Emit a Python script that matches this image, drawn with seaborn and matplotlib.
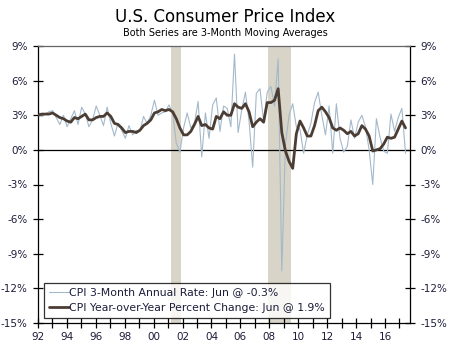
import numpy as np
import pandas as pd
import matplotlib
matplotlib.use("Agg")
import matplotlib.pyplot as plt
import seaborn as sns

# Quarterly readings, 1992Q1 .. 2017Q2
yoy = [3.0, 3.1, 3.1, 3.1,  3.2, 3.0, 2.8, 2.7,  2.5, 2.4, 2.8, 2.7,
       2.9, 3.1, 2.6, 2.6,  2.8, 2.9, 2.9, 3.2,  2.9, 2.3, 2.2, 1.9,
       1.5, 1.6, 1.6, 1.5,  1.7, 2.1, 2.3, 2.6,  3.2, 3.3, 3.5, 3.4,
       3.5, 3.3, 2.7, 1.9,  1.3, 1.3, 1.6, 2.2,  2.9, 2.1, 2.2, 1.9,
       1.8, 2.9, 2.7, 3.3,  3.0, 3.0, 4.0, 3.7,  3.6, 4.0, 3.3, 2.0,
       2.4, 2.7, 2.4, 4.1,  4.1, 4.3, 5.3, 1.5, -0.1, -1.0, -1.6, 1.4,
       2.5, 1.9, 1.2, 1.2,  2.1, 3.4, 3.7, 3.3,  2.8, 1.9, 1.7, 1.9,
       1.7, 1.4, 1.6, 1.2,  1.4, 2.1, 1.8, 1.2, -0.1, 0.0, 0.1, 0.5,
       1.1, 1.0, 1.1, 1.8,  2.5, 1.9]
rate3m = [3.3, 2.9, 3.1, 3.3,  3.4, 2.8, 2.2, 3.0,  2.0, 2.7, 3.4, 2.2,
          3.7, 3.1, 2.0, 2.6,  3.8, 3.0, 2.1, 3.7,  2.3, 1.2, 2.3, 1.7,
          1.0, 2.1, 1.3, 1.7,  1.6, 2.9, 2.3, 3.0,  4.3, 3.0, 3.2, 3.3,
          3.9, 3.2, 0.6, -0.2, 1.9, 3.2, 1.9, 2.3,  4.2, -0.6, 3.2, 1.0,
          3.9, 4.5, 1.6, 3.8,  3.6, 2.0, 8.3, 1.5,  3.5, 5.0, 2.5, -1.5,
          4.9, 5.3, 2.5, 5.0,  5.5, 3.8, 7.9, -10.5, 0.5, 3.0, 4.0, 2.0,
          1.8, -0.3, 1.3, 2.3,  4.1, 5.0, 3.0, 1.3,  3.8, -0.3, 4.0, 1.0,
          -0.2, 0.3, 2.6, 1.0,  2.4, 3.0, 2.0, 0.0, -3.0, 2.7, 1.1, -0.1,
          -0.3, 3.1, 1.6, 2.8,  3.6, -0.3]
yticks = [-15, -12, -9, -6, -3, 0, 3, 6, 9]
xlabel_years = list(range(1992, 2017, 2))
recessions = [(2001.2, 2001.9), (2007.93, 2009.48)]

t = 1992 + np.linspace(0, 25.42, len(yoy))
df = pd.DataFrame({"t": t, "yoy": yoy, "rate": rate3m})

sns.set_style("white")
plt.rcParams['font.family'] = ['DejaVu Sans']

fig = plt.figure(figsize=(4.5, 3.44), dpi=100)
ax = fig.add_axes([38/450, 21/344, 372/450, 277/344])

for a, b in recessions:
    ax.axvspan(a, b, color="#d9d4c8", lw=0, zorder=0)
ax.axhline(0, color="black", lw=0.9, zorder=1)

sns.lineplot(data=df, x="t", y="rate", ax=ax, color="#a3b9cb", lw=0.8,
             label="CPI 3-Month Annual Rate: Jun @ -0.3%", zorder=2)
sns.lineplot(data=df, x="t", y="yoy", ax=ax, color="#4b3d33", lw=2.0,
             label="CPI Year-over-Year Percent Change: Jun @ 1.9%", zorder=3)

ax.set_xlim(1992, 2017.73)
ax.set_ylim(-15, 9)
ax.set_yticks(yticks)
ax.set_yticklabels([f"{v}%" for v in yticks])
ax.set_xticks(range(1992, 2018))
ax.set_xticklabels([f"{y % 100:02d}" if y in xlabel_years else "" for y in range(1992, 2018)])
ax.set_xlabel("")
ax.set_ylabel("")

txtc = "#1c1c3a"
ax.tick_params(axis="y", which="both", direction="inout", length=7, width=0.9,
               left=True, right=True, labelleft=True, labelright=True,
               labelsize=7.5, colors="black", labelcolor=txtc, pad=4)
ax.tick_params(axis="x", direction="inout", length=7, width=0.9, bottom=True,
               labelsize=7.5, colors="black", labelcolor=txtc, pad=3)
for s in ["left", "right", "bottom"]:
    ax.spines[s].set_color("black")
    ax.spines[s].set_linewidth(0.9)
ax.spines["top"].set_color("#666666")
ax.spines["top"].set_linewidth(0.9)

leg = ax.legend(loc="lower left", bbox_to_anchor=(6/372, 5/277), frameon=True,
                fancybox=False, edgecolor="black", fontsize=7.8,
                handlelength=1.9, handletextpad=0.0, borderpad=0.45,
                labelspacing=0.5, borderaxespad=0)
leg.get_frame().set_linewidth(0.9)
for txt in leg.get_texts():
    txt.set_color(txtc)

fig.text(0.5, 1 - 17/344, "U.S. Consumer Price Index", ha="center", va="center",
         fontsize=12, color="black")
fig.text(0.5, 1 - 33/344, "Both Series are 3-Month Moving Averages", ha="center",
         va="center", fontsize=7, color="black")

fig.savefig("out.png", dpi=100)
